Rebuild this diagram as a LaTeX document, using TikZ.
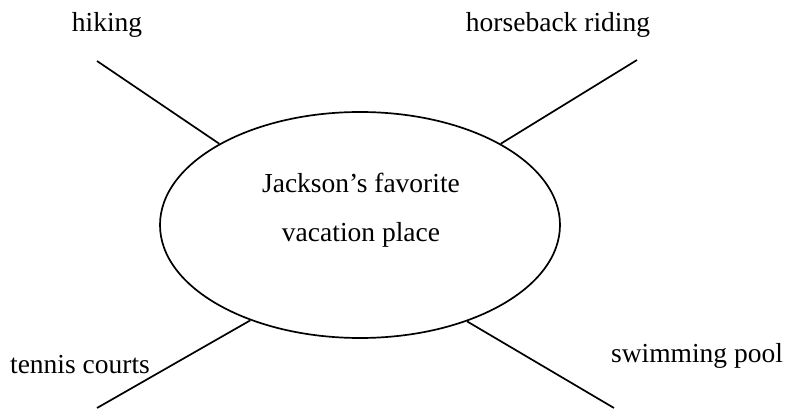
\documentclass[tikz,border=0pt]{standalone}
\usepackage{fontspec}
\setmainfont{Liberation Serif}
\usetikzlibrary{shapes.geometric}
\begin{document}
\begin{tikzpicture}[x=1pt,y=1pt,
  lbl/.style={anchor=base,inner sep=0pt,font=\fontsize{27.5}{33}\selectfont},
  conn/.style={line width=1.7pt,black},
  bubble/.style={ellipse,draw,line width=1.7pt,minimum width=400pt,minimum height=226pt,inner sep=0pt}]
\useasboundingbox (0,0) rectangle (788,410);
\node[bubble] (E) at (360,185) {};
\node[lbl] (t1) at (361,217) {Jackson’s favorite};
\node[lbl] (t2) at (361,168) {vacation place};
\node[lbl] (hk) at (107,378) {hiking};
\node[lbl] (hr) at (558,378) {horseback riding};
\node[lbl] (tc) at (80,36) {tennis courts};
\node[lbl] (sp) at (697,47) {swimming pool};
\coordinate (hkend) at (97,349);
\coordinate (hrend) at (637,350);
\coordinate (tcend) at (97,2);
\coordinate (spend) at (614,2);
\draw[conn] (hkend) -- (E.150.1);
\draw[conn] (hrend) -- (E.30.8);
\draw[conn] (tcend) -- (E.221.3);
\draw[conn] (spend) -- (E.318.7);
\end{tikzpicture}
\end{document}
